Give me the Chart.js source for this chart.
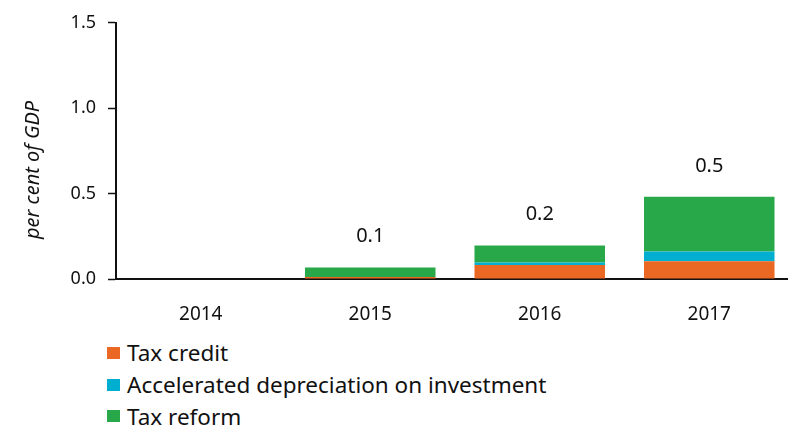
<!DOCTYPE html>
<html>
<head>
<meta charset="utf-8">
<script src="https://cdn.jsdelivr.net/npm/chart.js@4/dist/chart.umd.min.js"></script>
<style>
  html, body { margin: 0; padding: 0; background: #fff; overflow: hidden; }
  #wrap { position: relative; width: 794px; height: 330px; }
  #legend { position: absolute; left: 107px; top: 337px; font-family: "Noto Sans", sans-serif; font-size: 22.5px; color: #111; }
  .item { height: 31.7px; display: flex; align-items: center; }
  .box { width: 13px; height: 12px; margin-right: 7px; }
</style>
</head>
<body>
<div id="wrap"><canvas id="FiscalChart" width="794" height="330"></canvas></div>
<div id="legend"></div>
<script>
// Fiscal cost of measures, per cent of GDP
const years = ['2014', '2015', '2016', '2017'];
const taxCredit = [0, 0.012, 0.082, 0.104];
const accelDepreciation = [0, 0, 0.014, 0.057];
const taxReform = [0, 0.055, 0.1, 0.32];
const yTicks = [0, 0.5, 1.0, 1.5];

const seriesNames = ['Tax credit', 'Accelerated depreciation on investment', 'Tax reform'];
const seriesColors = ['#EB6724', '#00AED0', '#29A84A'];
const seriesData = [taxCredit, accelDepreciation, taxReform];

const fontFamily = '"Noto Sans", sans-serif';

// Writes the stack total (one decimal) above each bar
const totalLabels = {
    id: 'totalLabels',
    afterDatasetsDraw(chart) {
        const ctx = chart.ctx;
        const yScale = chart.scales.y;
        const xScale = chart.scales.x;
        ctx.save();
        ctx.font = '20px ' + fontFamily;
        ctx.fillStyle = '#111';
        ctx.textAlign = 'center';
        ctx.textBaseline = 'middle';
        years.forEach((year, i) => {
            const total = taxCredit[i] + accelDepreciation[i] + taxReform[i];
            if (total <= 0) return;
            const x = xScale.getPixelForValue(i);
            const y = yScale.getPixelForValue(total) - 31;
            ctx.fillText(total.toFixed(1), x, y);
        });
        ctx.restore();
    }
};

// Axis title, sitting a little below the middle of the y axis
const yTitle = {
    id: 'yTitle',
    afterDraw(chart) {
        const ctx = chart.ctx;
        ctx.save();
        ctx.translate(33, 170);
        ctx.rotate(-Math.PI / 2);
        ctx.font = 'italic 20px ' + fontFamily;
        ctx.fillStyle = '#111';
        ctx.textAlign = 'center';
        ctx.textBaseline = 'middle';
        ctx.fillText('per cent of GDP', 0, 0);
        ctx.restore();
    }
};

const ctx = document.getElementById('FiscalChart').getContext('2d');
const myChart = new Chart(ctx, {
    type: 'bar',
    data: {
        labels: years,
        datasets: seriesData.map((values, i) => ({
            label: seriesNames[i],
            data: values,
            backgroundColor: seriesColors[i],
            borderWidth: 0,
            categoryPercentage: 0.77,
            barPercentage: 1
        }))
    },
    options: {
        responsive: false,
        animation: false,
        layout: { padding: { top: 20, left: 0, right: 0, bottom: 0 } },
        plugins: {
            legend: { display: false },
            tooltip: { enabled: false }
        },
        scales: {
            x: {
                stacked: true,
                afterFit: function (scale) { scale.height = 51; },
                grid: { display: false },
                border: { display: true, color: '#111', width: 2 },
                ticks: { color: '#111', padding: 16, font: { family: fontFamily, size: 19 } }
            },
            y: {
                stacked: true,
                min: 0,
                max: 1.5,
                afterFit: function (scale) { scale.width = 116; },
                afterBuildTicks: function (scale) {
                    scale.ticks = yTicks.map(v => ({ value: v }));
                },
                grid: { drawOnChartArea: false, tickLength: 8, tickColor: '#111', tickWidth: 1.5 },
                border: { display: true, color: '#111', width: 2 },
                ticks: {
                    color: '#111',
                    padding: 12,
                    font: { family: fontFamily, size: 18 },
                    callback: v => v.toFixed(1)
                }
            }
        }
    },
    plugins: [totalLabels, yTitle]
});

// Legend below the chart, one entry per line
const legendEl = document.getElementById('legend');
myChart.data.datasets.forEach(ds => {
    const row = document.createElement('div');
    row.className = 'item';
    const box = document.createElement('span');
    box.className = 'box';
    box.style.background = ds.backgroundColor;
    const text = document.createElement('span');
    text.textContent = ds.label;
    row.appendChild(box);
    row.appendChild(text);
    legendEl.appendChild(row);
});
</script>
</body>
</html>
